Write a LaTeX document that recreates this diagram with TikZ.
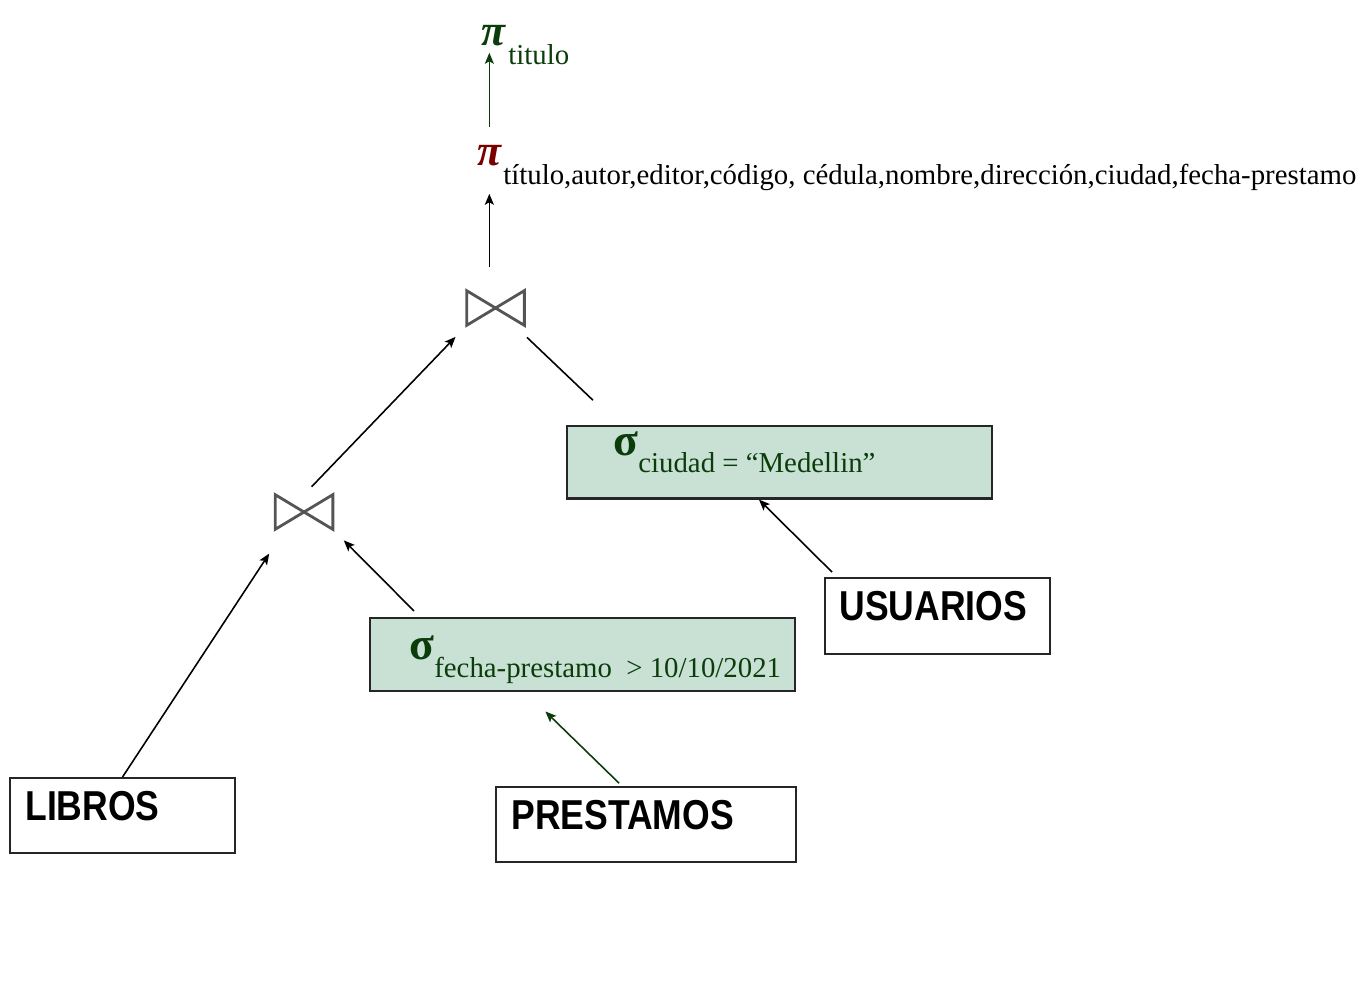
\documentclass[tikz,border=0pt]{standalone}
\usepackage{fontspec}
\setmainfont{Liberation Serif}
\newfontfamily\relfont[FakeStretch=0.85]{Liberation Sans}
\usetikzlibrary{arrows.meta}
\definecolor{selfill}{HTML}{C9E0D4}
\definecolor{dkgreen}{HTML}{0B3D0B}
\definecolor{dkred}{HTML}{7A0000}
\definecolor{joingray}{HTML}{555555}

\begin{document}
\begin{tikzpicture}[x=0.02cm,y=-0.02cm]
	\tikzset{
		relbox/.style={draw=black!85, line width=1.2pt, inner sep=0pt, anchor=north west, minimum width=4.5cm, minimum height=1.5cm},
		selbox/.style={relbox, fill=selfill, minimum width=8.5cm, minimum height=1.45cm},
		reltext/.style={font=\relfont\bfseries\fontsize{23.8}{26}\selectfont, inner sep=0pt, anchor=base west},
		subtext/.style={font=\fontsize{16.4}{18}\selectfont, inner sep=0pt, anchor=base west},
		optext/.style={font=\bfseries\fontsize{26}{28}\selectfont, inner sep=0pt, anchor=base west},
		pitext/.style={font=\bfseries\itshape\fontsize{25}{27}\selectfont, inner sep=0pt, anchor=base west},
		joinsym/.style={minimum width=1.14cm, minimum height=0.68cm, inner sep=0pt},
		flowarr/.style={line width=0.9pt, -{Stealth[length=0.22cm,width=0.18cm,inset=0.05cm]}}
	}
	\useasboundingbox (0,0) rectangle (1369,1002);
	
	% proyecciones
	\node[pitext, text=dkgreen] (pi1) at (481,45) {π};
	\node[subtext, text=dkgreen] (pi1sub) at (508,64) {titulo};
	\node[pitext, text=dkred] (pi2) at (477,165) {π};
	\node[subtext] (pi2sub) at (503,184) {título,autor,editor,código, cédula,nombre,dirección,ciudad,fecha-prestamo};
	
	% joins
	\node[joinsym] (j1) at (495.5,308) {};
	\node[joinsym] (j2) at (304,512) {};
	\foreach \j in {j1,j2}
		\draw[joingray, line width=1.6pt] (\j.north west) -- (\j.south east) -- (\j.north east) -- (\j.south west) -- cycle;
	
	% selecciones
	\node[selbox] (selc) at (566,425) {};
	\node[optext, text=dkgreen] (sigc) at (613,455) {σ};
	\node[subtext, text=dkgreen] (selcsub) at (638,472) {ciudad = “Medellin”};
	\node[selbox] (selp) at (369,617) {};
	\node[optext, text=dkgreen] (sigp) at (409,659) {σ};
	\node[subtext, text=dkgreen] (selpsub) at (434,677) {fecha-prestamo\ \ > 10/10/2021};
	
	% relaciones
	\node[relbox] (libros) at (9,777) {};
	\node[reltext] (librost) at (25,820) {LIBROS};
	\node[relbox, minimum width=6cm] (prest) at (495,786) {};
	\node[reltext] (prestt) at (511,829) {PRESTAMOS};
	\node[relbox, minimum height=1.52cm] (usu) at (824,577) {};
	\node[reltext] (usut) at (839,620) {USUARIOS};
	
	\draw[flowarr, dkgreen, shorten <=0.36cm, shorten >=0.14cm] (pi2.north) -- (pi2.north |- pi1.south);
	\draw[flowarr, shorten <=0.48cm, shorten >=0.56cm] (pi2.south |- j1.north) -- (pi2.south);
	\draw[flowarr, shorten <=0.22cm, shorten >=0.32cm] (j2.north) -- (j1.south west);
	\draw[line width=0.9pt, shorten <=0.35cm, shorten >=0.72cm] ([xshift=-0.2cm]j1.south east) -- ([xshift=1.06cm]selc.north west);
	\draw[flowarr, shorten >=0.58cm] (libros.north) -- ([xshift=0.2cm]j2.south west);
	\draw[flowarr, shorten <=0.17cm, shorten >=0.31cm] ([xshift=1.02cm]selp.north west) -- (j2.south east);
	\draw[flowarr, dkgreen, shorten <=0.08cm, shorten >=0.57cm] ([xshift=2.54cm]prest.north west) -- ([xshift=3.12cm]selp.south west);
	\draw[flowarr, shorten <=0.14cm] ([xshift=0.26cm]usu.north west) -- ([xshift=3.86cm]selc.south west);
\end{tikzpicture}
\end{document}
